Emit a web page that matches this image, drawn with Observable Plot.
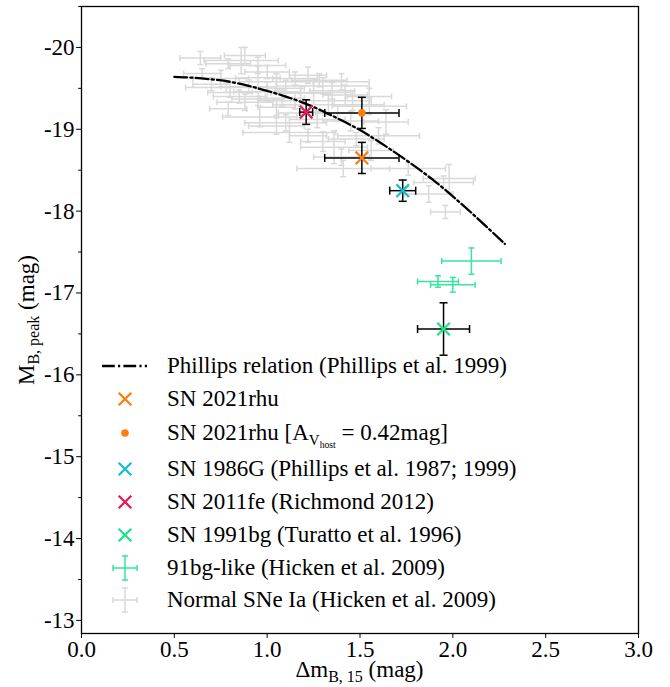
<!DOCTYPE html>
<html>
<head>
<meta charset="utf-8">
<script src="https://cdn.jsdelivr.net/npm/d3@7"></script>
<script src="https://cdn.jsdelivr.net/npm/@observablehq/plot@0.6"></script>
<style>
  html, body { margin: 0; padding: 0; background: white; }
  #wrap { position: relative; width: 670px; height: 687px; font-family: "Liberation Serif", "Times New Roman", serif; }
  .leg { position: absolute; left: 100px; height: 30px; display: flex; align-items: center; font-family: "Liberation Serif", "Times New Roman", serif; font-size: 23px; color: black; white-space: nowrap; }
  .leg svg { width: 50px; height: 30px; margin-right: 17px; flex: none; }
  .leg sub { font-size: 65%; vertical-align: -0.35em; line-height: 0; }
</style>
</head>
<body>
<div id="wrap"></div>
<script>
// ---------------- data ----------------
// Phillips relation
const phillipsDm15 = [0.5, 0.6, 0.7, 0.8, 0.9, 1.0, 1.1, 1.2, 1.3, 1.4, 1.5, 1.6, 1.7, 1.8, 1.9, 2.0, 2.1, 2.2, 2.28];
const phillipsMB   = [-19.64, -19.63, -19.61, -19.58, -19.53, -19.47, -19.40, -19.32, -19.22, -19.11, -18.99, -18.85, -18.70, -18.54, -18.37, -18.18, -17.98, -17.77, -17.60];

// Individual supernovae
const snNames   = ["SN 2021rhu", "SN 2021rhu corrected", "SN 1986G", "SN 2011fe", "SN 1991bg"];
const snDm15    = [1.51, 1.51, 1.73, 1.21, 1.95];
const snMB      = [-18.65, -19.20, -18.25, -19.21, -16.56];
const snDm15Err = [0.20, 0.20, 0.07, 0.035, 0.14];
const snMBErr   = [0.19, 0.19, 0.13, 0.15, 0.32];

// 91bg-like (Hicken et al. 2009)
const bgDm15    = [2.10, 1.92, 2.00];
const bgMB      = [-17.39, -17.14, -17.10];
const bgDm15Err = [0.16, 0.11, 0.12];
const bgMBErr   = [0.16, 0.07, 0.09];

// Normal SNe Ia (Hicken et al. 2009)
const normDm15    = [0.64, 0.88, 0.86, 0.79, 0.95, 0.65, 0.75, 0.78, 0.95, 1.05, 1.15, 1.30, 1.22, 0.90, 1.00, 1.10, 1.18, 1.25, 1.35, 1.42, 0.80, 0.85, 0.95, 1.08, 1.15, 1.33, 1.46, 0.70, 0.79, 0.88, 0.96, 1.05, 1.10, 1.05, 1.18, 1.27, 1.38, 1.55, 1.64, 1.55, 1.45, 1.12, 1.22, 1.30, 1.36, 1.60, 1.56, 1.48, 1.40, 1.41, 1.76, 1.98, 1.95, 1.87, 1.96, 1.00, 1.28, 1.40];
const normMB      = [-19.87, -19.90, -19.84, -19.80, -19.78, -19.68, -19.62, -19.51, -19.63, -19.58, -19.62, -19.53, -19.66, -19.52, -19.46, -19.50, -19.44, -19.45, -19.47, -19.42, -19.45, -19.40, -19.37, -19.38, -19.35, -19.30, -19.35, -19.55, -19.25, -19.33, -19.15, -19.27, -19.08, -19.04, -19.20, -19.12, -19.20, -19.28, -19.09, -19.40, -19.10, -18.96, -18.92, -18.85, -18.78, -18.92, -18.74, -18.88, -18.66, -18.52, -18.52, -18.40, -18.35, -18.21, -17.99, -19.70, -19.60, -19.58];
const normDm15Err = [0.11, 0.11, 0.20, 0.12, 0.15, 0.10, 0.15, 0.22, 0.12, 0.20, 0.12, 0.25, 0.10, 0.15, 0.18, 0.10, 0.16, 0.20, 0.12, 0.12, 0.12, 0.14, 0.14, 0.12, 0.20, 0.30, 0.10, 0.10, 0.10, 0.15, 0.20, 0.10, 0.22, 0.15, 0.12, 0.15, 0.12, 0.20, 0.12, 0.12, 0.15, 0.25, 0.10, 0.12, 0.18, 0.22, 0.12, 0.15, 0.15, 0.25, 0.20, 0.14, 0.16, 0.13, 0.08, 0.12, 0.15, 0.15];
const normMBErr   = [0.08, 0.10, 0.16, 0.06, 0.10, 0.06, 0.10, 0.06, 0.14, 0.10, 0.08, 0.10, 0.10, 0.08, 0.12, 0.10, 0.09, 0.15, 0.10, 0.12, 0.06, 0.08, 0.08, 0.10, 0.10, 0.12, 0.12, 0.08, 0.08, 0.10, 0.12, 0.10, 0.10, 0.10, 0.08, 0.10, 0.10, 0.10, 0.15, 0.10, 0.12, 0.12, 0.08, 0.12, 0.20, 0.10, 0.12, 0.08, 0.10, 0.10, 0.08, 0.17, 0.08, 0.10, 0.08, 0.08, 0.08, 0.10];

const xTicks = [0.0, 0.5, 1.0, 1.5, 2.0, 2.5, 3.0];
const yTicks = [-20, -19, -18, -17, -16, -15, -14, -13];
const yMinorTicks = [-20.5, -19.5, -18.5, -17.5, -16.5, -15.5, -14.5, -13.5];

// ---------------- build tables ----------------
const toRows = (xs, ys, xe, ye) => xs.map((x, i) => ({x, y: ys[i], xe: xe[i], ye: ye[i]}));
const phillips = phillipsDm15.map((x, i) => ({x, y: phillipsMB[i]}));
const sn = toRows(snDm15, snMB, snDm15Err, snMBErr).map((d, i) => ({...d, name: snNames[i]}));
const bg = toRows(bgDm15, bgMB, bgDm15Err, bgMBErr);
const norm = toRows(normDm15, normMB, normDm15Err, normMBErr);

const GRAY = "#d9d9d9", GREEN_BAR = "#38e3a2", GREEN_X = "#1de38c";
const ORANGE = "#ff7f0e", CYAN = "#17becf", CRIMSON = "#e81a5a";
const FONT = '"Liberation Serif", "Times New Roman", serif';

// custom symbols
const rOf = size => Math.sqrt(size / Math.PI);
const hLine = {draw(c, s) { const r = rOf(s); c.moveTo(-r, 0); c.lineTo(r, 0); }};
const vLine = {draw(c, s) { const r = rOf(s); c.moveTo(0, -r); c.lineTo(0, r); }};
const xMark = {draw(c, s) { const r = rOf(s); c.moveTo(-r, -r); c.lineTo(r, r); c.moveTo(-r, r); c.lineTo(r, -r); }};

function errorbars(rows, color, width, cap) {
  const hcaps = rows.flatMap(d => [{x: d.x, y: d.y - d.ye}, {x: d.x, y: d.y + d.ye}]);
  const vcaps = rows.flatMap(d => [{x: d.x - d.xe, y: d.y}, {x: d.x + d.xe, y: d.y}]);
  return [
    Plot.ruleY(rows, {y: "y", x1: d => d.x - d.xe, x2: d => d.x + d.xe, stroke: color, strokeWidth: width}),
    Plot.ruleX(rows, {x: "x", y1: d => d.y - d.ye, y2: d => d.y + d.ye, stroke: color, strokeWidth: width}),
    Plot.dot(hcaps, {x: "x", y: "y", symbol: hLine, r: cap, stroke: color, fill: "none", strokeWidth: width}),
    Plot.dot(vcaps, {x: "x", y: "y", symbol: vLine, r: cap, stroke: color, fill: "none", strokeWidth: width})
  ];
}

const DASH = "12.8,3.2,2.2,3.2";

const plot = Plot.plot({
  width: 670,
  height: 687,
  marginLeft: 81,
  marginRight: 32,
  marginTop: 6,
  marginBottom: 54,
  x: {domain: [0, 3], label: null},
  y: {domain: [-12.84, -20.5], label: null},
  style: {fontFamily: FONT, fontSize: "23px", color: "black", background: "white"},
  marks: [
    ...errorbars(norm, GRAY, 1.5, 3),
    ...errorbars(bg, GREEN_BAR, 1.5, 3),
    Plot.line(phillips, {x: "x", y: "y", stroke: "black", strokeWidth: 2.3, strokeDasharray: DASH, curve: "natural"}),
    ...errorbars(sn, "black", 1.5, 4),
    Plot.dot(sn.filter(d => d.name === "SN 2021rhu corrected"), {x: "x", y: "y", r: 3.8, fill: ORANGE, stroke: "none"}),
    Plot.dot(sn.filter(d => d.name !== "SN 2021rhu corrected"), {
      x: "x", y: "y", symbol: xMark, r: 6.3, fill: "none", strokeWidth: 2.3,
      stroke: d => ({"SN 2021rhu": ORANGE, "SN 1986G": CYAN, "SN 2011fe": CRIMSON, "SN 1991bg": GREEN_X})[d.name]
    }),
    Plot.frame({stroke: "black", strokeWidth: 1.3}),
    Plot.axisX({ticks: xTicks, tickFormat: d3.format(".1f"), tickSize: 4.9, tickPadding: 2, label: null}),
    Plot.axisY({ticks: yTicks, tickFormat: d => String(d), tickSize: 4.9, tickPadding: 2, label: null}),
    Plot.axisY({ticks: yMinorTicks, tickFormat: () => "", tickSize: 2.8, label: null})
  ]
});

const wrap = document.getElementById("wrap");
wrap.appendChild(plot);

// axis titles as real text
const svg = d3.select(plot);
const xl = svg.append("text")
  .attr("x", 359.5).attr("y", 677)
  .attr("text-anchor", "middle")
  .style("font-family", FONT).style("font-size", "23px").attr("fill", "black");
xl.append("tspan").text("Δm");
xl.append("tspan").attr("dy", 5).style("font-size", "16px").text("B, 15");
xl.append("tspan").attr("dy", -5).text(" (mag)");

const yl = svg.append("text")
  .attr("transform", "translate(34,320) rotate(-90)")
  .attr("text-anchor", "middle")
  .style("font-family", FONT).style("font-size", "23px").attr("fill", "black");
yl.append("tspan").text("M");
yl.append("tspan").attr("dy", 5).style("font-size", "16px").text("B, peak");
yl.append("tspan").attr("dy", -5).text(" (mag)");

// ---------------- legend (inside the axes, lower left) ----------------
const legendLabels = [
  "Phillips relation (Phillips et al. 1999)",
  "SN 2021rhu",
  "SN 2021rhu [A<sub>V<sub>host</sub></sub> = 0.42mag]",
  "SN 1986G (Phillips et al. 1987; 1999)",
  "SN 2011fe (Richmond 2012)",
  "SN 1991bg (Turatto et al. 1996)",
  "91bg-like (Hicken et al. 2009)",
  "Normal SNe Ia (Hicken et al. 2009)"
];
const xSvg = c => `<svg viewBox="0 0 50 30"><path d="M18.7,8.7L31.3,21.3M18.7,21.3L31.3,8.7" stroke="${c}" stroke-width="2.3" fill="none"/></svg>`;
const ebSvg = c => `<svg viewBox="0 0 50 30"><path d="M13,15H37M25,3V27M13,12V18M37,12V18M22,3H28M22,27H28" stroke="${c}" stroke-width="1.5" fill="none"/></svg>`;
const handles = [
  `<svg viewBox="0 0 50 30"><line x1="2" x2="47" y1="15" y2="15" stroke="black" stroke-width="2.3" stroke-dasharray="${DASH}"/></svg>`,
  xSvg(ORANGE),
  `<svg viewBox="0 0 50 30"><circle cx="25" cy="15" r="3.8" fill="${ORANGE}"/></svg>`,
  xSvg(CYAN),
  xSvg(CRIMSON),
  xSvg(GREEN_X),
  ebSvg(GREEN_BAR),
  ebSvg(GRAY)
];
const rowCenters = [366, 399, 433, 469, 502, 535, 568, 600];
legendLabels.forEach((lab, i) => {
  const row = document.createElement("div");
  row.className = "leg";
  row.style.top = (rowCenters[i] - 15) + "px";
  row.innerHTML = handles[i] + `<span>${lab}</span>`;
  wrap.appendChild(row);
});
</script>
</body>
</html>
